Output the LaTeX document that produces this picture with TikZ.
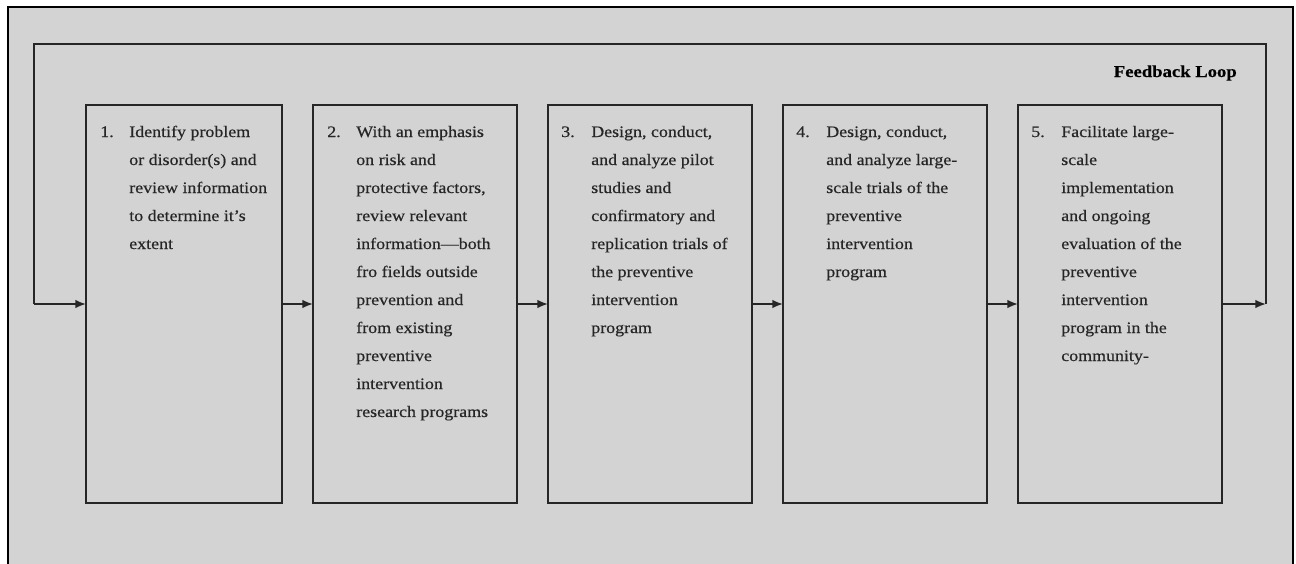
\documentclass[tikz,border=0pt]{standalone}
\usepackage{fontspec}
\setmainfont{Liberation Serif}[FakeStretch=1.12,FakeBold=0.4]
\usepackage{tikz}
\usetikzlibrary{arrows.meta,calc,positioning}
\definecolor{panelgray}{RGB}{211,211,211}
\newcommand\steplines[1]{\begin{tabular}[t]{@{}l@{}}#1\end{tabular}}

\begin{document}
\begin{tikzpicture}[x=0.75pt,y=-0.75pt,
  stepbox/.style={draw=black!85,line width=2.2pt,minimum width=153pt,minimum height=298.5pt,
    inner sep=0pt,outer sep=0pt,anchor=north west},
  steptext/.style={anchor=base west,inner sep=0pt,text=black!85,font=\fontsize{12}{21}\selectfont},
  flow/.style={line width=1.4pt,draw=black!85,-{Latex[length=8pt,width=6.5pt]}},
  loopline/.style={line width=2.2pt,draw=black!85,line join=miter}]
\useasboundingbox (0,0) rectangle (1296,564);
\clip (0,0) rectangle (1296,564);
\fill[white] (0,0) rectangle (1296,564);
\draw[line width=2.2pt,fill=panelgray] (8,7) rectangle (1293,600);

% the five steps
\node[stepbox,minimum width=147pt] (s1) at (86,105) {};
\node[stepbox,right=23.25pt of s1] (s2) {};
\node[stepbox,right=23.25pt of s2] (s3) {};
\node[stepbox,right=23.25pt of s3] (s4) {};
\node[stepbox,right=23.25pt of s4] (s5) {};

\node[steptext] (n1) at ($(s1.north west)+(14,32)$) {1.};
\node[steptext] (t1) at ($(s1.north west)+(43,32)$) {\steplines{Identify problem\\or disorder(s) and\\review information\\to determine it’s\\extent}};
\node[steptext] (n2) at ($(s2.north west)+(14,32)$) {2.};
\node[steptext] (t2) at ($(s2.north west)+(43,32)$) {\steplines{With an emphasis\\on risk and\\protective factors,\\review relevant\\information---both\\fro fields outside\\prevention and\\from existing\\preventive\\intervention\\research programs}};
\node[steptext] (n3) at ($(s3.north west)+(13,32)$) {3.};
\node[steptext] (t3) at ($(s3.north west)+(43,32)$) {\steplines{Design, conduct,\\and analyze pilot\\studies and\\confirmatory and\\replication trials of\\the preventive\\intervention\\program}};
\node[steptext] (n4) at ($(s4.north west)+(13,32)$) {4.};
\node[steptext] (t4) at ($(s4.north west)+(43,32)$) {\steplines{Design, conduct,\\and analyze large-\\scale trials of the\\preventive\\intervention\\program}};
\node[steptext] (n5) at ($(s5.north west)+(13,32)$) {5.};
\node[steptext] (t5) at ($(s5.north west)+(43,32)$) {\steplines{Facilitate large-\\scale\\implementation\\and ongoing\\evaluation of the\\preventive\\intervention\\program in the\\community-}};

% arrows between steps
\draw[flow] (s1) -- (s2);
\draw[flow] (s2) -- (s3);
\draw[flow] (s3) -- (s4);
\draw[flow] (s4) -- (s5);

% feedback loop
\coordinate (loopR) at (1266,44);
\coordinate (loopL) at (34,44);
\node[anchor=base east,inner sep=0pt,font=\bfseries\fontsize{12.5}{15}\selectfont] (fb) at (1237,77) {Feedback Loop};
\draw[flow] (s5.east) -- (s5.east -| loopR);
\draw[loopline] (s5.east -| loopR) -- (loopR) -- (loopL) -- (loopL |- s1.west);
\draw[flow] (loopL |- s1.west) -- (s1.west);
\end{tikzpicture}
\end{document}
